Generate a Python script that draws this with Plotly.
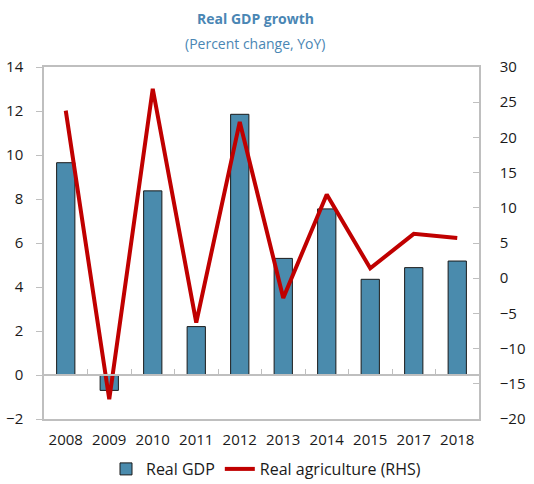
import plotly.graph_objects as go

# Annual growth data
years = ["2008", "2009", "2010", "2011", "2012", "2013", "2014", "2015", "2017", "2018"]
real_gdp = [9.65, -0.7, 8.37, 2.2, 11.85, 5.3, 7.55, 4.35, 4.88, 5.18]
real_agriculture = [23.8, -17.2, 26.9, -6.3, 22.2, -2.8, 11.9, 1.4, 6.3, 5.7]

left_ticks = [-2, 0, 2, 4, 6, 8, 10, 12, 14]
right_ticks = [-20, -15, -10, -5, 0, 5, 10, 15, 20, 25, 30]

BAR = "#4A8BAD"
LINE = "#C00000"
GRID = "#BFBFBF"
TITLE = "#4A86B4"
FONT = "Open Sans, Noto Sans, sans-serif"

W, H = 534, 484
m_l, m_r, m_t, m_b = 44, 55, 67, 65
plot_h = H - m_t - m_b
plot_w = W - m_l - m_r


def py(px_from_top):
    """Paper y for a pixel row measured from the top of the page."""
    return (H - m_b - px_from_top) / plot_h


def px(px_from_left):
    """Paper x for a pixel column measured from the left of the page."""
    return (px_from_left - m_l) / plot_w


y_lo, y_hi = left_ticks[0], left_ticks[-1]
# paper position of the zero line, used for the axis that carries the category ticks
zero_pos = (0 - y_lo) / (y_hi - y_lo)

fig = go.Figure()

fig.add_trace(go.Bar(
    x=years, y=real_gdp, name="Real GDP",
    marker=dict(color=BAR, line=dict(color="#1A1A1A", width=1)),
    width=0.42,
    xaxis="x", yaxis="y",
))

fig.add_trace(go.Scatter(
    x=years, y=real_agriculture, name="Real agriculture (RHS)",
    mode="lines", line=dict(color=LINE, width=4),
    xaxis="x", yaxis="y2",
))

# empty trace so the zero-line axis knows the categories
fig.add_trace(go.Scatter(
    x=years, y=[None] * len(years), mode="markers",
    showlegend=False, hoverinfo="skip", xaxis="x2", yaxis="y",
))

fig.update_layout(
    width=W, height=H,
    margin=dict(l=m_l, r=m_r, t=m_t, b=m_b, autoexpand=False),
    paper_bgcolor="white", plot_bgcolor="white",
    font=dict(family=FONT, size=15, color="#1A1A1A"),
    showlegend=True,
    legend=dict(
        orientation="h", x=px(266), xanchor="center",
        y=py(469), yanchor="middle",
        font=dict(size=16), traceorder="normal",
        itemwidth=30,
    ),
    xaxis=dict(
        type="category", categoryorder="array", categoryarray=years,
        range=[-0.5, len(years) - 0.5],
        showline=True, linecolor=GRID, linewidth=1.5, mirror=True,
        ticks="", showgrid=False, tickfont=dict(size=15),
        ticklabelstandoff=6,
    ),
    xaxis2=dict(
        type="category", categoryorder="array", categoryarray=years,
        range=[-0.5, len(years) - 0.5],
        overlaying="x", anchor="free", position=zero_pos, side="bottom",
        showline=True, linecolor=GRID, linewidth=1.5,
        ticks="inside", ticklen=5, tickcolor=GRID, tickwidth=1,
        tickson="boundaries", showticklabels=False, showgrid=False,
    ),
    yaxis=dict(
        range=[y_lo, y_hi], tickvals=left_ticks, showgrid=False,
        zeroline=False,
        showline=True, linecolor=GRID, linewidth=1.5,
        ticks="outside", ticklen=6, tickcolor=GRID,
        tickfont=dict(size=15), ticklabelstandoff=10,
    ),
    yaxis2=dict(
        range=[right_ticks[0], right_ticks[-1]], tickvals=right_ticks,
        overlaying="y", side="right", showgrid=False, zeroline=False,
        showline=True, linecolor=GRID, linewidth=1.5,
        ticks="inside", ticklen=6, tickcolor=GRID,
        tickfont=dict(size=15), ticklabelstandoff=16,
    ),
    annotations=[
        dict(text="<b>Real GDP growth</b>", x=px(255.5), y=py(19),
             xref="paper", yref="paper", xanchor="center", yanchor="middle",
             showarrow=False, font=dict(size=14, color=TITLE, family=FONT)),
        dict(text="(Percent change, YoY)", x=px(255.5), y=py(43),
             xref="paper", yref="paper", xanchor="center", yanchor="middle",
             showarrow=False, font=dict(size=14, color=TITLE, family=FONT)),
    ],
)

fig.write_html("out.html")
